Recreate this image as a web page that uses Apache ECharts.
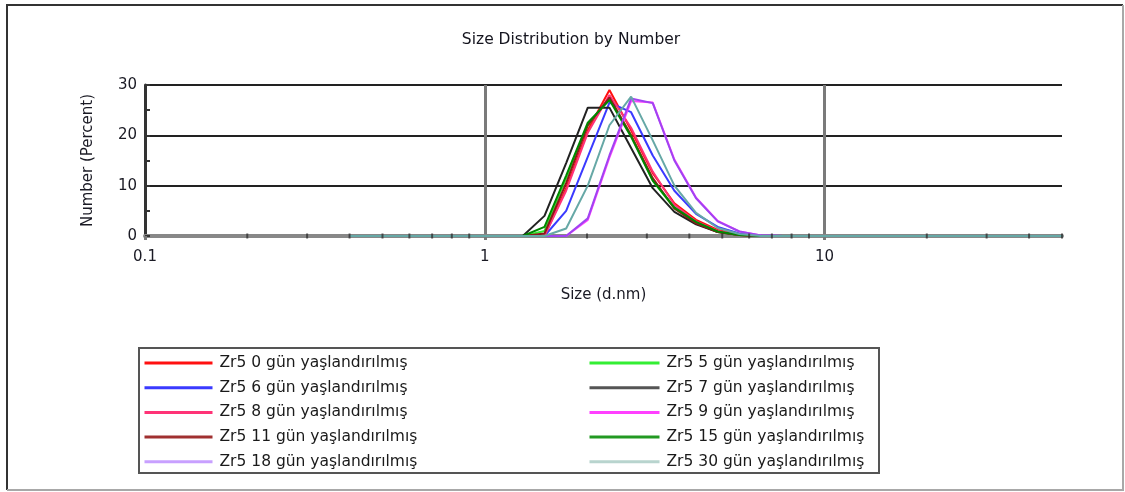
<!DOCTYPE html>
<html>
<head>
<meta charset="utf-8">
<script src="https://cdn.jsdelivr.net/npm/echarts@6/dist/echarts.min.js"></script>
<style>
  html, body { margin: 0; padding: 0; background: #ffffff; }
  #chart { width: 1125px; height: 492px; }
</style>
</head>
<body>
<div id="chart"></div>
<script>
// Size bins (d.nm) of the number distribution
const sizes = [0.4, 0.4632, 0.5365, 0.6213, 0.7195, 0.8332, 0.9649, 1.117, 1.294, 1.499, 1.736, 2.01, 2.328, 2.696, 3.122, 3.615, 4.187, 4.849, 5.615, 6.503, 7.531, 8.721, 10.1, 11.7, 13.54, 15.69, 18.17, 21.04, 24.36, 28.21, 32.67, 37.84, 43.82, 50.75];

// Number (%) per bin for each aging time
const day0  = [0, 0, 0, 0, 0, 0, 0, 0, 0, 0,   9.5, 21,   29,   21,   12.5, 6.5,  3.2, 1.2, 0.3, 0,   0, 0, 0, 0, 0, 0, 0, 0, 0, 0, 0, 0, 0, 0];
const day5  = [0, 0, 0, 0, 0, 0, 0, 0, 0, 1.0, 11.5, 22,   27.5, 20,   11,   5.5,  2.5, 0.8, 0.2, 0,   0, 0, 0, 0, 0, 0, 0, 0, 0, 0, 0, 0, 0, 0];
const day6  = [0, 0, 0, 0, 0, 0, 0, 0, 0, 0,   5,    15.7, 26.5, 24.6, 16,   9,    4.4, 1.8, 0.5, 0.1, 0, 0, 0, 0, 0, 0, 0, 0, 0, 0, 0, 0, 0, 0];
const day7  = [0, 0, 0, 0, 0, 0, 0, 0, 0, 4,   14.5, 25.5, 25.5, 17.5, 9.5,  4.8,  2.3, 0.8, 0.2, 0,   0, 0, 0, 0, 0, 0, 0, 0, 0, 0, 0, 0, 0, 0];
const day8  = [0, 0, 0, 0, 0, 0, 0, 0, 0, 0,   9,    20.5, 28,   21.5, 12.8, 6.2,  2.9, 1.0, 0.2, 0,   0, 0, 0, 0, 0, 0, 0, 0, 0, 0, 0, 0, 0, 0];
const day9  = [0, 0, 0, 0, 0, 0, 0, 0, 0, 0,   0,    3.2,  15.6, 26.8, 26.5, 15.2, 7.6, 3.0, 0.9, 0.1, 0, 0, 0, 0, 0, 0, 0, 0, 0, 0, 0, 0, 0, 0];
const day11 = [0, 0, 0, 0, 0, 0, 0, 0, 0, 0.5, 10.5, 22,   27.5, 20,   11.5, 5.5,  2.5, 0.8, 0.2, 0,   0, 0, 0, 0, 0, 0, 0, 0, 0, 0, 0, 0, 0, 0];
const day15 = [0, 0, 0, 0, 0, 0, 0, 0, 0, 1.8, 12,   22.5, 27,   19.7, 11,   5.7,  2.8, 0.9, 0.2, 0,   0, 0, 0, 0, 0, 0, 0, 0, 0, 0, 0, 0, 0, 0];
const day18 = [0, 0, 0, 0, 0, 0, 0, 0, 0, 0,   0,    3.5,  16,   27.3, 26.4, 15,   7.5, 2.9, 0.9, 0.1, 0, 0, 0, 0, 0, 0, 0, 0, 0, 0, 0, 0, 0, 0];
const day30 = [0, 0, 0, 0, 0, 0, 0, 0, 0, 0,   1.5,  10,   22,   27.7, 19,   10,   4.6, 1.6, 0.4, 0,   0, 0, 0, 0, 0, 0, 0, 0, 0, 0, 0, 0, 0, 0];

// Minor tick positions on the logarithmic size axis
const minorTicks = [0.2, 0.3, 0.4, 0.5, 0.6, 0.7, 0.8, 0.9, 2, 3, 4, 5, 6, 7, 8, 9, 20, 30, 40, 50];

const FONT = 'DejaVu Sans';
const suffix = ' gün yaşlandırılmış';

const seriesDefs = [
  { name: 'Zr5 0' + suffix,  data: day0,  color: '#ff1010' },
  { name: 'Zr5 5' + suffix,  data: day5,  color: '#33ee33' },
  { name: 'Zr5 6' + suffix,  data: day6,  color: '#3a3aff' },
  { name: 'Zr5 7' + suffix,  data: day7,  color: '#222222', legendColor: '#555555' },
  { name: 'Zr5 8' + suffix,  data: day8,  color: '#ff3377' },
  { name: 'Zr5 9' + suffix,  data: day9,  color: '#ff40ff' },
  { name: 'Zr5 11' + suffix, data: day11, color: '#8b1a1a', legendColor: '#a03030' },
  { name: 'Zr5 15' + suffix, data: day15, color: '#008800', legendColor: '#229922' },
  { name: 'Zr5 18' + suffix, data: day18, color: '#a044f2', legendColor: '#c8a0ff' },
  { name: 'Zr5 30' + suffix, data: day30, color: '#66a8a6', legendColor: '#b8d4ce' }
];

const leftDefs = [0, 2, 4, 6, 8].map(i => seriesDefs[i]);
const rightDefs = [1, 3, 5, 7, 9].map(i => seriesDefs[i]);

// Legend entries show a plain line, no marker
function legendItems(defs) {
  return defs.map(d => ({
    name: d.name,
    lineStyle: { color: d.legendColor || d.color, width: 3 },
    itemStyle: { opacity: 0 }
  }));
}

const legendCommon = {
  orient: 'vertical',
  top: 350,
  itemHeight: 14,
  itemGap: 8.7,
  selectedMode: false,
  textStyle: { fontFamily: FONT, fontSize: 15.5, color: '#1a1a1a', lineHeight: 14, padding: [0, 0, 0, 2] }
};

const chart = echarts.init(document.getElementById('chart'), null, { renderer: 'canvas' });

chart.setOption({
  animation: false,
  backgroundColor: '#ffffff',
  title: {
    text: 'Size Distribution by Number',
    left: 566,
    textAlign: 'center',
    top: 27,
    textStyle: { fontFamily: FONT, fontSize: 15.5, fontWeight: 'normal', color: '#14141e' }
  },
  grid: { left: 145, right: 63, top: 85, bottom: 256 },
  legend: [
    Object.assign({}, legendCommon, { left: 138, itemWidth: 68, data: legendItems(leftDefs) }),
    Object.assign({}, legendCommon, { left: 583, itemWidth: 70, data: legendItems(rightDefs) })
  ],
  xAxis: [
    {
      type: 'log',
      logBase: 10,
      min: 0.1,
      max: 50,
      name: 'Size (d.nm)',
      nameLocation: 'middle',
      nameGap: 52,
      nameTextStyle: { fontFamily: FONT, fontSize: 15, color: '#1a1a24' },
      axisLine: { show: true, onZero: false, lineStyle: { color: '#222222', width: 2 } },
      axisTick: { show: true, length: 4, lineStyle: { color: '#7a7a7a', width: 3 } },
      axisLabel: { fontFamily: FONT, fontSize: 15, color: '#1a1a24', margin: 14, showMaxLabel: false },
      splitLine: { show: true, showMaxLine: false, lineStyle: { color: '#7a7a7a', width: 3 } }
    },
    {
      type: 'log',
      logBase: 10,
      min: 0.1,
      max: 50,
      position: 'top',
      axisLine: { show: true, lineStyle: { color: '#888888', width: 4 } },
      axisTick: { show: false },
      axisLabel: { show: false },
      splitLine: { show: false }
    }
  ],
  yAxis: {
    type: 'value',
    min: 0,
    max: 30,
    interval: 10,
    name: 'Number (Percent)',
    nameLocation: 'middle',
    nameGap: 49,
    nameRotate: 90,
    nameTextStyle: { fontFamily: FONT, fontSize: 15, color: '#1a1a24' },
    axisLine: { show: true, lineStyle: { color: '#333333', width: 3 } },
    axisTick: { show: true, inside: true, length: 5, lineStyle: { color: '#333333', width: 2 } },
    minorTick: { show: true, splitNumber: 2, length: 5, lineStyle: { color: '#333333', width: 2 } },
    axisLabel: { fontFamily: FONT, fontSize: 15, color: '#1a1a24', margin: 8 },
    splitLine: { show: true, lineStyle: { color: '#222222', width: 2 } }
  },
  series: seriesDefs.map(d => ({
    name: d.name,
    type: 'line',
    symbol: 'none',
    color: d.color,
    lineStyle: { color: d.color, width: 2 },
    data: sizes.map((s, i) => [s, d.data[i]])
  })).concat([{
    name: 'minor ticks',
    type: 'scatter',
    symbol: 'rect',
    symbolSize: [2, 5],
    silent: true,
    z: 5,
    itemStyle: { color: '#333333' },
    data: minorTicks.map(v => [v, 0])
  }]),
  graphic: [
    { type: 'polyline', shape: { points: [[7, 490], [7, 5], [1123, 5]] }, style: { stroke: '#333333', lineWidth: 2, fill: null }, silent: true },
    { type: 'polyline', shape: { points: [[1123, 5], [1123, 490], [7, 490]] }, style: { stroke: '#a8a8a8', lineWidth: 2, fill: null }, silent: true },
    { type: 'rect', shape: { x: 139, y: 348, width: 740, height: 125 }, style: { stroke: '#555555', lineWidth: 2, fill: null }, silent: true, z: 10 }
  ]
});
</script>
</body>
</html>
